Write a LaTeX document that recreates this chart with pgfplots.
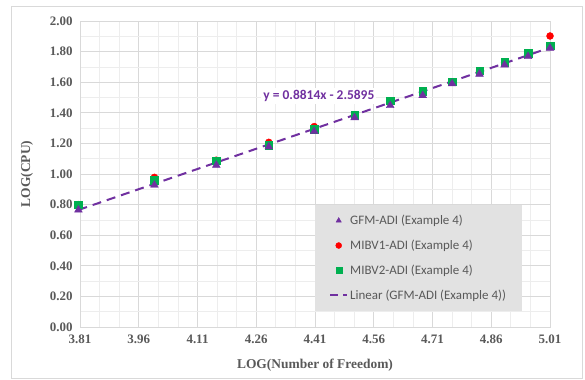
\documentclass[border=0pt]{standalone}
\usepackage{pgfplots}
\pgfplotsset{compat=1.18}
\usepackage{fontspec}
\setmainfont{Liberation Serif}
\newfontfamily\calibri{Carlito}
\definecolor{epurple}{HTML}{7030A0}
\definecolor{egreen}{HTML}{00B050}
\definecolor{ered}{HTML}{FF0000}
\definecolor{tickgray}{HTML}{595959}
\definecolor{majgrid}{HTML}{D9D9D9}
\definecolor{mingrid}{HTML}{EDEDED}
\definecolor{leggray}{HTML}{E2E2E2}
\begin{document}
\begin{tikzpicture}[x=1bp,y=1bp]
\useasboundingbox (0,0) rectangle (585,379);
\draw[color=majgrid, line width=0.8bp] (11,1) rectangle (582,373);
\begin{axis}[
  at={(80bp,52bp)}, anchor=south west,
  width=470bp, height=306bp, scale only axis,
  xmin=3.81, xmax=5.01, ymin=0, ymax=2,
  xtick={3.81,3.96,4.11,4.26,4.41,4.56,4.71,4.86,5.01},
  ytick={0,0.2,0.4,0.6,0.8,1.0,1.2,1.4,1.6,1.8,2.0},
  minor x tick num=2, minor y tick num=1,
  grid=both,
  major grid style={draw=majgrid, line width=0.9bp},
  minor grid style={draw=mingrid, line width=0.7bp},
  axis line style={draw=majgrid, line width=0.9bp},
  tick style={draw=none},
  /pgf/number format/assume math mode=true,
  /pgf/number format/.cd, fixed, fixed zerofill, precision=2, /pgfplots/.cd,
  ticklabel style={font=\fontsize{13}{15}\selectfont\bfseries, text=tickgray},
  xticklabel style={yshift=-4bp},
  yticklabel style={xshift=-4bp},
  xlabel={LOG(Number of Freedom)},
  ylabel={LOG(CPU)},
  label style={font=\fontsize{13.5}{16}\selectfont\bfseries, text=tickgray},
  xlabel style={at={(axis description cs:0.5,-0.124)}, anchor=center},
  ylabel style={at={(axis description cs:-0.113,0.5)}, anchor=center, rotate=0},
  legend style={at={(0.5,0.052)}, anchor=south west, fill=leggray, draw=none,
    font=\calibri\fontsize{13}{15}\selectfont, text=tickgray,
    row sep=10bp, inner xsep=14bp, inner ysep=8bp},
  legend cell align=left,
  clip=false,
]
\addlegendimage{only marks, mark=triangle*, mark size=3bp, color=epurple}
\addlegendentry{GFM-ADI (Example 4)}
\addlegendimage{only marks, mark=*, mark size=3bp, color=ered}
\addlegendentry{MIBV1-ADI (Example 4)}
\addlegendimage{only marks, mark=square*, mark size=3bp, color=egreen}
\addlegendentry{MIBV2-ADI (Example 4)}
\addlegendimage{color=epurple, line width=2bp, dash pattern=on 8bp off 5bp}
\addlegendentry{Linear (GFM-ADI (Example 4))}
\addplot[forget plot, only marks, mark=*, mark size=3.5bp, color=ered] coordinates {
(3.806,0.800) (4.000,0.978) (4.158,1.090) (4.292,1.207) (4.408,1.310)
(4.511,1.386) (4.602,1.475) (4.685,1.540) (4.760,1.603) (4.830,1.672)
(4.894,1.728) (4.954,1.787) (5.010,1.902)};
\addplot[forget plot, only marks, mark=square*, mark size=3.8bp, color=egreen] coordinates {
(3.806,0.800) (4.000,0.960) (4.158,1.087) (4.292,1.190) (4.408,1.292)
(4.511,1.386) (4.602,1.479) (4.685,1.542) (4.760,1.603) (4.830,1.675)
(4.894,1.730) (4.954,1.789) (5.010,1.839)};
\addplot[forget plot, only marks, mark=triangle*, mark size=4.5bp, color=epurple] coordinates {
(3.806,0.765) (4.000,0.928) (4.158,1.058) (4.292,1.178) (4.408,1.278)
(4.511,1.368) (4.602,1.448) (4.685,1.513) (4.760,1.590) (4.830,1.653)
(4.894,1.713) (4.954,1.768) (5.010,1.823)};
\addplot[forget plot, color=epurple, line width=2bp, dash pattern=on 9bp off 6bp] coordinates {
(3.806,0.765) (5.010,1.826)};
\node[fill=white, text=epurple, font=\calibri\fontsize{13.5}{15}\selectfont\bfseries, inner sep=2bp]
  at (axis cs:4.42,1.51) {y = 0.8814x - 2.5895};
\end{axis}
\end{tikzpicture}
\end{document}
